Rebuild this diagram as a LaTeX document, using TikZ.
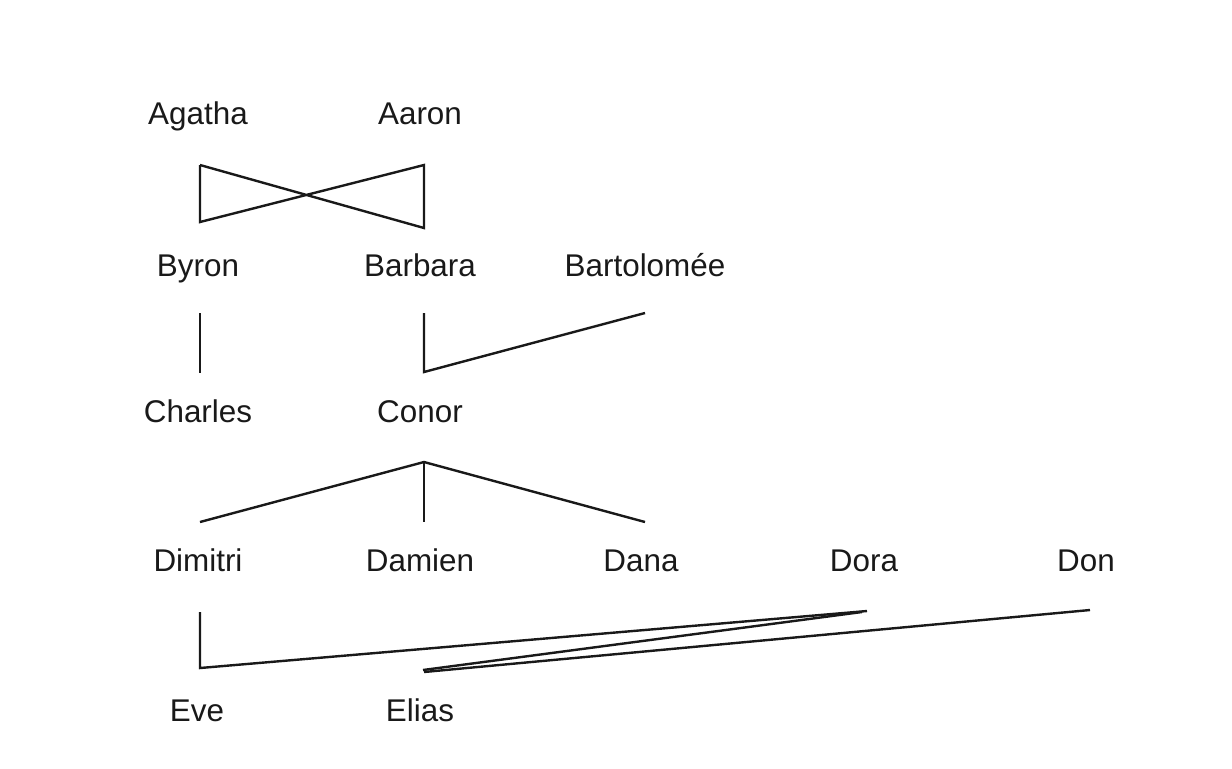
\documentclass[tikz,border=0pt]{standalone}
\usepackage{fontspec}
\setmainfont{Liberation Sans}
\begin{document}
\begin{tikzpicture}[x=0.5pt,y=-0.5pt,
  person/.style={anchor=base,inner sep=0pt,text=black!90,font=\fontsize{15.7}{18}\selectfont},
  link/.style={draw=black!90,line width=1.2pt,line join=miter}]
\useasboundingbox (0,0) rectangle (1232,768);
\fill[white] (0,0) rectangle (1232,768);
% people
\node[person] (Agatha) at (198,124.5) {Agatha};
\node[person] (Aaron) at (420,124.5) {Aaron};
\node[person] (Byron) at (198,276.5) {Byron};
\node[person] (Barbara) at (420,276.5) {Barbara};
\node[person] (Bartolomee) at (645,276.5) {Bartolomée};
\node[person] (Charles) at (198,422.5) {Charles};
\node[person] (Conor) at (420,422.5) {Conor};
\node[person] (Dimitri) at (198,571.5) {Dimitri};
\node[person] (Damien) at (420,571.5) {Damien};
\node[person] (Dana) at (641,571.5) {Dana};
\node[person] (Dora) at (864,571.5) {Dora};
\node[person] (Don) at (1086,571.5) {Don};
\node[person] (Eve) at (197,721.5) {Eve};
\node[person] (Elias) at (420,721.5) {Elias};
% connector end points
\coordinate (agD) at (200,165);
\coordinate (aaD) at (424,165);
\coordinate (byU) at (200,222);
\coordinate (baU) at (424,228);
\coordinate (byD) at (200,313);
\coordinate (chU) at (200,373);
\coordinate (baD) at (424,313);
\coordinate (coU) at (424,372);
\coordinate (btD) at (645,313);
\coordinate (coD) at (424,462);
\coordinate (diU) at (200,522);
\coordinate (daU) at (424,522);
\coordinate (dnU) at (645,522);
\coordinate (dmD) at (200,612);
\coordinate (evU) at (200,668);
\coordinate (drD) at (867,611);
\coordinate (drD2) at (862,612);
\coordinate (doD) at (1090,610);
\coordinate (elU) at (423,670);
\coordinate (elU2) at (424,672);
% connectors
\draw[link] (agD) -- (byU) -- (aaD) -- (baU) -- (agD);
\draw[link] (byD) -- (chU);
\draw[link] (baD) -- (coU) -- (btD);
\draw[link] (diU) -- (coD) -- (dnU);
\draw[link] (coD) -- (daU);
\draw[link] (dmD) -- (evU) -- (drD);
\draw[link] (elU) -- (drD2);
\draw[link] (elU2) -- (doD);
\end{tikzpicture}
\end{document}
